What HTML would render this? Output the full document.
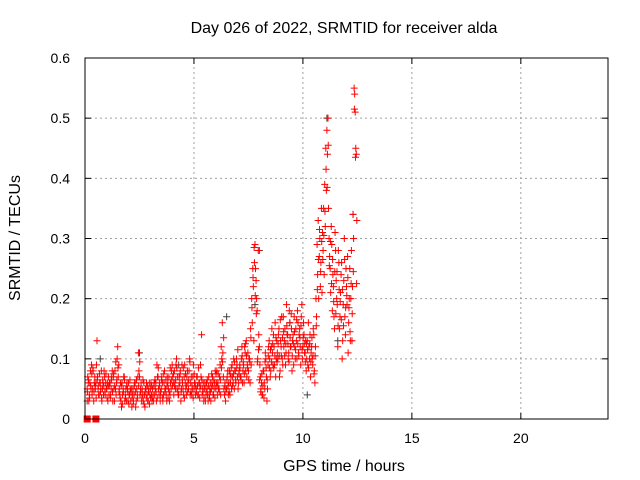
<!DOCTYPE html>
<html><head><meta charset="utf-8"><style>
body{margin:0;background:#fff;}
svg{display:block;font-family:"Liberation Sans",sans-serif;}
</style></head><body>
<svg id="chart" width="640" height="480" viewBox="0 0 640 480">
<rect width="640" height="480" fill="#fff"/>
<text x="344" y="33" font-size="16" text-anchor="middle">Day 026 of 2022, SRMTID for receiver alda</text>
<text transform="translate(20,238) rotate(-90)" font-size="16" text-anchor="middle">SRMTID / TECUs</text>
<text x="344" y="471" font-size="16" text-anchor="middle">GPS time / hours</text>
<g id="grid"></g><g id="marks"></g><g id="axes"></g>
</svg>
<script>
const xTicks=[0,5,10,15,20];
const yTicks=[0,0.1,0.2,0.3,0.4,0.5,0.6];
const yTickLabels=["0","0.1","0.2","0.3","0.4","0.5","0.6"];
const hours=[];
for(let i=0;i<248;i++){hours.push(+(0.1+i*0.05).toFixed(2));}
const srmtidA=[.05,.06,.04,.08,.09,.05,.03,.07,.06,.13,.05,.04,.06,.08,.05,.04,.07,.06,.05,.03,
.04,.06,.05,.08,.07,.03,.05,.06,.12,.09,.04,.03,.06,.05,.07,.04,.03,.05,.06,.04,
.03,.02,.05,.04,.06,.03,.04,.11,.07,.05,.03,.04,.06,.02,.05,.04,.03,.06,.05,.04,
.05,.03,.04,.06,.09,.07,.04,.03,.05,.06,.04,.08,.05,.03,.06,.07,.04,.05,.09,.06,
.08,.05,.1,.07,.04,.06,.03,.09,.05,.07,.06,.04,.08,.05,.1,.06,.04,.07,.05,.06,
.05,.07,.04,.06,.09,.14,.05,.03,.06,.04,.05,.03,.04,.06,.05,.07,.04,.06,.05,.08,
.06,.05,.09,.12,.16,.07,.04,.03,.05,.08,.06,.04,.07,.09,.06,.05,.08,.1,.07,.06,
.09,.07,.12,.08,.06,.11,.13,.09,.08,.1,.15,.2,.25,.13,.29,.23,.18,.28,.12,.07,
.06,.04,.08,.05,.1,.03,.09,.13,.07,.12,.11,.14,.09,.07,.13,.1,.15,.08,.12,.1,
.17,.13,.09,.19,.14,.11,.16,.12,.08,.14,.17,.1,.13,.18,.11,.15,.09,.19,.12,.14,
.11,.08,.13,.16,.1,.07,.12,.09,.14,.06,.2,.29,.33,.27,.22,.35,.31,.35,.39,.45,
.48,.5,.3,.25,.32,.18,.22,.15,.28,.2,.12,.26,.17,.24,.1,.19,.3,.14,.22,.27,
.16,.25,.2,.13,.34,.55,.51,.44];
const srmtidB=[.07,.03,.06,.05,.04,.08,.06,.05,.09,.07,.04,.06,.05,.03,.06,.08,.04,.05,.06,.07,
.06,.04,.07,.03,.05,.08,.04,.1,.07,.05,.06,.02,.04,.07,.03,.05,.06,.03,.04,.05,
.05,.04,.03,.06,.02,.05,.07,.08,.04,.06,.05,.03,.04,.05,.06,.03,.05,.04,.06,.03,
.04,.06,.05,.03,.07,.05,.06,.04,.07,.03,.06,.05,.04,.07,.05,.03,.06,.08,.07,.04,
.06,.09,.05,.04,.07,.08,.05,.06,.04,.09,.05,.07,.06,.08,.04,.07,.05,.09,.06,.04,
.07,.04,.06,.05,.07,.04,.06,.05,.03,.06,.04,.07,.05,.03,.06,.04,.05,.08,.06,.04,
.05,.07,.04,.1,.11,.05,.06,.05,.07,.04,.08,.06,.05,.07,.1,.08,.06,.09,.05,.08,
.07,.1,.06,.09,.12,.08,.07,.11,.1,.06,.09,.16,.22,.26,.25,.2,.1,.14,.09,.05,
.04,.08,.06,.11,.07,.05,.12,.1,.08,.15,.09,.12,.16,.1,.11,.14,.07,.13,.17,.09,
.12,.15,.11,.14,.1,.18,.12,.15,.13,.09,.12,.15,.1,.16,.14,.12,.17,.1,.16,.11,
.13,.1,.09,.12,.14,.11,.1,.15,.08,.12,.17,.24,.2,.3,.26,.21,.28,.24,.32,.38,
.44,.35,.27,.21,.29,.24,.17,.31,.23,.19,.28,.15,.21,.26,.13,.23,.17,.25,.19,.11,
.2,.13,.28,.22,.3,.54,.45,.33];
const srmtidC=[.045,.065,.035,.055,.075,.085,.045,.055,.035,.065,.055,.075,.045,.035,.065,.055,.045,.075,.035,.055,
.055,.035,.065,.045,.075,.055,.095,.065,.085,.045,.035,.055,.025,.045,.065,.035,.055,.045,.025,.065,
.045,.035,.025,.055,.045,.065,.035,.055,.095,.045,.035,.065,.025,.045,.035,.055,.045,.025,.035,.055,
.035,.055,.065,.045,.035,.085,.055,.045,.065,.035,.075,.045,.065,.055,.035,.045,.085,.065,.055,.075,
.055,.065,.085,.045,.055,.075,.045,.065,.085,.035,.075,.055,.045,.065,.095,.045,.055,.035,.075,.055,
.045,.055,.085,.035,.055,.065,.045,.035,.055,.045,.065,.055,.035,.045,.075,.055,.065,.035,.075,.055,
.075,.045,.065,.085,.095,.135,.055,.045,.065,.055,.045,.075,.085,.055,.075,.095,.065,.085,.115,.075,
.085,.065,.105,.095,.075,.125,.105,.085,.065,.095,.135,.185,.235,.285,.205,.175,.095,.115,.065,.045,
.075,.055,.035,.095,.085,.065,.105,.085,.115,.095,.125,.085,.105,.135,.095,.125,.105,.165,.105,.135,
.145,.105,.125,.155,.125,.095,.135,.175,.105,.125,.145,.115,.165,.125,.105,.135,.155,.115,.135,.125,
.095,.125,.115,.085,.125,.095,.135,.105,.075,.105,.155,.215,.265,.315,.245,.295,.265,.305,.345,.415,
.385,.455,.255,.295,.225,.265,.195,.245,.175,.245,.155,.215,.195,.165,.215,.155,.265,.185,.205,.235,
.185,.145,.225,.175,.245,.515,.435,.225];
const grayHours=[0.1,0.7,2.5,4.3,6.5,7.8,8.0,10.2,11.1,11.6,12.3,9.4];
const grayVals=[0.03,0.1,0.11,0.09,0.17,0.19,0.28,0.04,0.5,0.13,0.34,0.16];
const zeroHours=[0.1,0.5];
const zeroVals=[0,0];

const X0=85,X1=608,Y0=419,Y1=58;
const xs=v=>X0+(v/24)*(X1-X0);
const ys=v=>Y0-(v/0.6)*(Y0-Y1);
const NS="http://www.w3.org/2000/svg";
function mk(tag,attrs,parent){const e=document.createElementNS(NS,tag);for(const k in attrs)e.setAttribute(k,attrs[k]);parent.appendChild(e);return e;}
const grid=document.getElementById('grid'),marks=document.getElementById('marks'),axes=document.getElementById('axes');
xTicks.forEach((t,i)=>{
  const x=xs(t);
  if(t>0){const g=mk('line',{x1:x,x2:x,y1:Y0,y2:Y1,stroke:'#a0a0a0','stroke-dasharray':'2,3'},grid);
  
  }
  mk('line',{x1:x,x2:x,y1:Y0,y2:Y0-6,stroke:'#000'},axes);
  mk('line',{x1:x,x2:x,y1:Y1,y2:Y1+6,stroke:'#000'},axes);
  const l=mk('text',{x:x,y:443,'font-size':14,'text-anchor':'middle'},axes);l.textContent=t;
  
  
});
yTicks.forEach((t,i)=>{
  const y=ys(t);
  if(t>0&&t<0.6){const g=mk('line',{x1:X0,x2:X1,y1:y,y2:y,stroke:'#a0a0a0','stroke-dasharray':'2,3'},grid);
  
  }
  mk('line',{x1:X0,x2:X0+6,y1:y,y2:y,stroke:'#000'},axes);
  mk('line',{x1:X1,x2:X1-6,y1:y,y2:y,stroke:'#000'},axes);
  const l=mk('text',{x:70,y:y+5,'font-size':14,'text-anchor':'end'},axes);l.textContent=yTickLabels[i];
  
  
});
const frame=mk('rect',{x:X0,y:Y1,width:X1-X0,height:Y0-Y1,fill:'none',stroke:'#000'},axes);


function plus(h,v,col){
  const x=xs(h),y=ys(v);
  const p=mk('path',{d:`M${x-3.5},${y}H${x+3.5}M${x},${y-3.5}V${y+3.5}`,stroke:col,'stroke-width':1,fill:'none'},marks);
  
  
}
grayHours.forEach((h,i)=>plus(h,grayVals[i],'#404040'));
hours.forEach((h,i)=>{
  if(srmtidA[i]!==undefined)plus(h,srmtidA[i],'#ff0000');
  if(srmtidB[i]!==undefined)plus(h+0.025,srmtidB[i],'#ff0000');
  if(srmtidC[i]!==undefined)plus(h+0.012,srmtidC[i],'#ff0000');
});
zeroHours.forEach((h,i)=>{
  const r=mk('rect',{x:xs(h)-3.5,y:ys(zeroVals[i])-3.5,width:7,height:7,fill:'#ff0000'},marks);
  
  
});
</script>
</body></html>
